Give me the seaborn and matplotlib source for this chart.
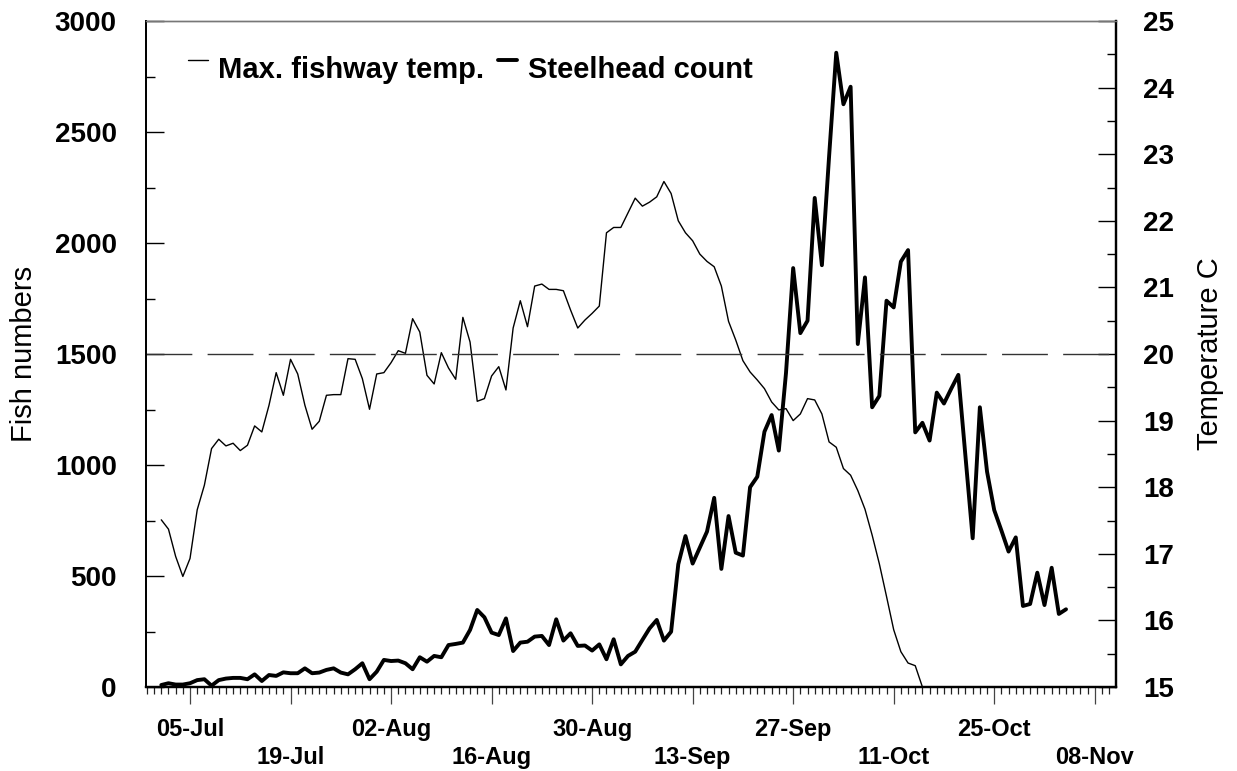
import numpy as np
import pandas as pd
import matplotlib
matplotlib.use("Agg")
import matplotlib.pyplot as plt
import matplotlib.dates as mdates
from matplotlib.lines import Line2D
from matplotlib.legend_handler import HandlerLine2D
from matplotlib.ticker import MultipleLocator, FixedLocator
import seaborn as sns

# ---------------- data ----------------
YEAR = 2001
start_date = "01-Jul"

steelhead_count = [
    # July
    9, 17, 11, 11, 17, 31, 35, 6, 31, 38, 41, 41, 35, 57, 27, 54, 50, 66, 62, 62,
    84, 62, 65, 77, 84, 65, 57, 80, 107, 35, 69,
    # August
    122, 117, 119, 107, 80, 134, 114, 140, 134, 189, 194, 200, 257, 347, 314, 245,
    234, 309, 162, 200, 204, 227, 230, 189, 305, 209, 242, 185, 187, 164, 192,
    # September
    125, 215, 102, 140, 159, 212, 264, 302, 209, 249, 553, 680, 556, 628, 700, 852,
    532, 770, 605, 592, 900, 947, 1150, 1225, 1065, 1414, 1887, 1594, 1650, 2203,
    # October
    1900, 2389, 2857, 2625, 2704, 1545, 1845, 1260, 1311, 1740, 1710, 1916, 1968,
    1147, 1190, 1110, 1326, 1277, 1343, 1406, 1037, 670, 1260, 970, 797, 705, 610,
    674, 365, 374, 515,
    # November
    369, 537, 329, 350,
]

max_fishway_temp = [
    # July
    17.51, 17.37, 16.96, 16.66, 16.93, 17.66, 18.03, 18.58, 18.72, 18.62, 18.66,
    18.55, 18.63, 18.92, 18.83, 19.23, 19.72, 19.38, 19.92, 19.70, 19.23, 18.87,
    18.99, 19.38, 19.39, 19.39, 19.93, 19.92, 19.63, 19.17, 19.70,
    # August
    19.72, 19.87, 20.05, 20.01, 20.53, 20.33, 19.68, 19.55, 20.02, 19.79, 19.62,
    20.55, 20.18, 19.29, 19.33, 19.67, 19.81, 19.46, 20.39, 20.80, 20.41, 21.02,
    21.05, 20.97, 20.97, 20.95, 20.66, 20.39, 20.51, 20.61, 20.72,
    # September
    21.82, 21.90, 21.90, 22.12, 22.34, 22.22, 22.28, 22.36, 22.59, 22.41, 22.00,
    21.82, 21.70, 21.50, 21.39, 21.31, 21.02, 20.49, 20.21, 19.90, 19.73, 19.61,
    19.48, 19.28, 19.16, 19.18, 19.00, 19.10, 19.33, 19.31,
    # October
    19.10, 18.68, 18.60, 18.28, 18.18, 17.95, 17.67, 17.28, 16.85, 16.36, 15.86,
    15.53, 15.36, 15.32, 15.00,
]

temp_threshold = 20
tick_labels = ["05-Jul", "19-Jul", "02-Aug", "16-Aug", "30-Aug", "13-Sep",
               "27-Sep", "11-Oct", "25-Oct", "08-Nov"]
legend_labels = ["Max. fishway temp.", "Steelhead count"]

# ---------------- frames ----------------
t0 = pd.to_datetime(f"{start_date}-{YEAR}", format="%d-%b-%Y")
count_df = pd.DataFrame({
    "date": pd.date_range(t0, periods=len(steelhead_count), freq="D"),
    "count": steelhead_count,
})
temp_df = pd.DataFrame({
    "date": pd.date_range(t0, periods=len(max_fishway_temp), freq="D"),
    "temp": max_fishway_temp,
})
tick_dates = [pd.to_datetime(f"{s}-{YEAR}", format="%d-%b-%Y") for s in tick_labels]

# ---------------- style ----------------
sns.set_style("ticks")
plt.rcParams["font.family"] = ["Liberation Sans", "DejaVu Sans"]
plt.rcParams.update({
    "text.color": "black", "axes.labelcolor": "black",
    "xtick.color": "black", "ytick.color": "black",
    "xtick.labelcolor": "black", "ytick.labelcolor": "black",
    "axes.edgecolor": "black",
})

fig = plt.figure(figsize=(12.37, 7.71), dpi=100)
ax = fig.add_axes([146 / 1237, 1 - 687 / 771, (1116 - 146) / 1237, (687 - 21) / 771])
ax2 = ax.twinx()

sns.lineplot(data=count_df, x="date", y="count", ax=ax, color="black",
             linewidth=2.8, label=legend_labels[1], legend=False)
sns.lineplot(data=temp_df, x="date", y="temp", ax=ax2, color="black",
             linewidth=1.0, label=legend_labels[0], legend=False)
ax2.axhline(temp_threshold, color="#333333", linewidth=1.0, dashes=(33, 11))

# limits
ax.set_xlim(mdates.date2num(t0) - 2.13, mdates.date2num(t0) + 132.96)
ax.set_ylim(0, 3000)
ax2.set_ylim(15, 25)

# x ticks
ax.xaxis.set_major_locator(FixedLocator(mdates.date2num(tick_dates)))
ax.set_xticklabels([lab if i % 2 == 0 else "\n" + lab for i, lab in enumerate(tick_labels)],
                   fontsize=17, fontweight="bold", linespacing=1.3, color="black")
ax.xaxis.set_minor_locator(mdates.DayLocator())
ax.tick_params(axis="x", which="major", direction="out", length=12, width=0.9,
               pad=10, color="#444444")
ax.tick_params(axis="x", which="minor", direction="out", length=5, width=0.9,
               color="#222222")

# left y ticks
ax.yaxis.set_major_locator(MultipleLocator(500))
ax.yaxis.set_minor_locator(MultipleLocator(250))
ax.tick_params(axis="y", which="major", direction="in", length=13, width=1.0,
               pad=21, labelsize=20, labelcolor="black")
ax.tick_params(axis="y", which="minor", direction="in", length=6.5, width=1.0)
for lab in ax.get_yticklabels():
    lab.set_fontweight("bold")

# right y ticks
ax2.yaxis.set_major_locator(MultipleLocator(1))
ax2.yaxis.set_minor_locator(MultipleLocator(0.5))
ax2.tick_params(axis="y", which="major", direction="in", length=13, width=1.0,
                pad=19.5, labelsize=20, labelcolor="black")
ax2.tick_params(axis="y", which="minor", direction="in", length=6.5, width=1.0)
for lab in ax2.get_yticklabels():
    lab.set_fontweight("bold")

ax.set_xlabel("")
ax.set_ylabel("Fish numbers", fontsize=21, rotation=90, va="center", ha="center",
              color="black")
ax.yaxis.set_label_coords(-0.126, 0.5)
ax2.set_ylabel("Temperature C", fontsize=21, rotation=90, va="center", ha="center",
               color="black")
ax2.yaxis.set_label_coords(1.097, 0.5)

# spines
for a in (ax, ax2):
    a.spines["top"].set_visible(True)
    a.spines["right"].set_visible(True)
    a.spines["top"].set_color("#777777")
    a.spines["top"].set_linewidth(1.0)
    a.spines["left"].set_linewidth(1.3)
    a.spines["bottom"].set_linewidth(1.6)
    a.spines["right"].set_linewidth(1.6)


class RaisedLineHandler(HandlerLine2D):
    """Legend line sample drawn slightly above the text centre."""

    def create_artists(self, legend, orig_handle, xdescent, ydescent, width,
                       height, fontsize, trans):
        artists = super().create_artists(legend, orig_handle, xdescent, ydescent,
                                         width, height, fontsize, trans)
        for art in artists:
            art.set_ydata(np.asarray(art.get_ydata(), dtype=float) + 0.24 * fontsize)
        return artists


# legend
h_temp = ax2.get_lines()[0]
h_count = ax.get_lines()[0]
leg = ax2.legend(handles=[h_temp, h_count], labels=legend_labels, ncol=2,
                 loc="center left", bbox_to_anchor=(0.043, 0.927), frameon=False,
                 handlelength=0.68, handletextpad=0.36, columnspacing=0.46,
                 borderpad=0, borderaxespad=0,
                 prop={"weight": "bold", "size": 21},
                 handler_map={Line2D: RaisedLineHandler()})
for t in leg.get_texts():
    t.set_color("black")

fig.savefig("out.png", dpi=100)
